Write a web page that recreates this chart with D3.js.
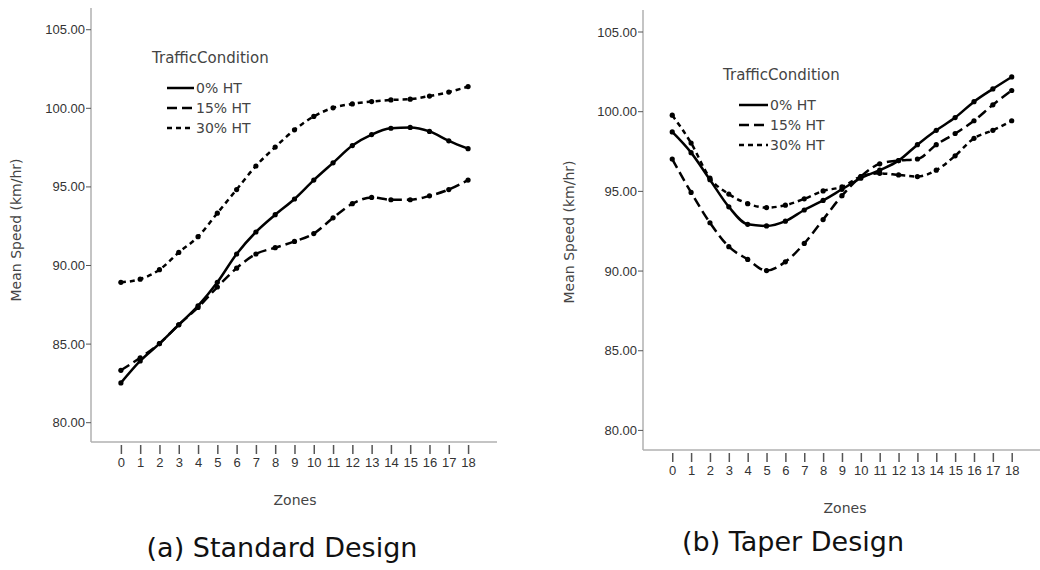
<!DOCTYPE html>
<html>
<head>
<meta charset="utf-8">
<script src="https://cdn.jsdelivr.net/npm/d3@7"></script>
<style>
  body { margin: 0; background: #fff; }
  text { font-family: "DejaVu Sans", Verdana, sans-serif; }
  .tick text { font-family: "Liberation Sans Narrow", "Liberation Sans", Arial, sans-serif; fill: #333; }
</style>
</head>
<body>
<script>
// 区域编号（横轴）
var zones = [0, 1, 2, 3, 4, 5, 6, 7, 8, 9, 10, 11, 12, 13, 14, 15, 16, 17, 18];
var yTicks = [80, 85, 90, 95, 100, 105];
var seriesNames = ["0% HT", "15% HT", "30% HT"];

// (a) Standard Design
var stdHT0  = [82.5, 83.9, 85.0, 86.2, 87.4, 88.9, 90.7, 92.1, 93.2, 94.2, 95.4, 96.5, 97.6, 98.3, 98.7, 98.75, 98.5, 97.9, 97.4];
var stdHT15 = [83.3, 84.1, 85.0, 86.2, 87.3, 88.6, 89.8, 90.7, 91.1, 91.5, 92.0, 93.0, 93.9, 94.3, 94.15, 94.15, 94.4, 94.8, 95.4];
var stdHT30 = [88.9, 89.1, 89.7, 90.8, 91.8, 93.3, 94.8, 96.3, 97.5, 98.6, 99.45, 100.0, 100.25, 100.4, 100.5, 100.55, 100.75, 101.0, 101.35];

// (b) Taper Design
var tapHT0  = [98.7, 97.4, 95.7, 94.0, 92.9, 92.8, 93.1, 93.8, 94.4, 95.1, 95.8, 96.3, 96.9, 97.9, 98.8, 99.6, 100.6, 101.4, 102.15];
var tapHT15 = [97.0, 94.9, 93.0, 91.5, 90.7, 90.0, 90.55, 91.7, 93.2, 94.7, 95.9, 96.7, 96.9, 97.0, 97.9, 98.6, 99.4, 100.4, 101.3];
var tapHT30 = [99.75, 98.0, 95.8, 94.8, 94.2, 93.95, 94.1, 94.5, 95.0, 95.25, 95.9, 96.1, 96.0, 95.9, 96.3, 97.2, 98.3, 98.8, 99.4];

var dashes = [null, "10,5", "5,4"];

var svg = d3.select("body").append("svg")
    .attr("width", 1040)
    .attr("height", 570);

// 画一个面板
function drawPanel(p) {
  var x = d3.scaleLinear().domain([-1.55, 19.5]).range([p.left, p.right]);
  var y = d3.scaleLinear().domain([78.74, 106.35]).range([p.bottom, p.top]);
  var g = svg.append("g");

  // Y 轴
  var ya = g.append("g")
      .attr("transform", "translate(" + p.left + ",0)")
      .call(d3.axisLeft(y).tickValues(yTicks).tickFormat(d3.format(".2f")).tickSize(5).tickPadding(1));
  ya.select(".domain").attr("stroke", "#b0b0b0").attr("stroke-width", 1.5).attr("d", "M0," + p.top + "V" + p.bottom);
  ya.selectAll(".tick line").attr("stroke", "#555");
  ya.selectAll(".tick text").style("font-size", "13px").attr("dy", "0.35em");

  // X 轴
  var xa = g.append("g")
      .attr("transform", "translate(0," + p.bottom + ")")
      .call(d3.axisBottom(x).tickValues(zones).tickSize(0).tickPadding(16));
  xa.select(".domain").attr("stroke", "#b0b0b0").attr("stroke-width", 1.5).attr("d", "M" + p.left + ",0H" + p.right);
  xa.selectAll(".tick line").attr("stroke", "#555").attr("stroke-width", 1.5).attr("y1", 3).attr("y2", 12);
  xa.selectAll(".tick text").style("font-size", "13px");

  // 轴标题
  g.append("text")
      .attr("transform", "translate(" + p.ylabX + "," + p.ylabY + ") rotate(-90)")
      .attr("text-anchor", "middle")
      .style("font-size", "14px").style("fill", "#444")
      .text("Mean Speed (km/hr)");
  g.append("text")
      .attr("x", p.xlabX).attr("y", p.bottom + 63)
      .attr("text-anchor", "middle")
      .style("font-size", "14px").style("fill", "#444")
      .text("Zones");

  // 折线
  var line = d3.line()
      .x(function(d, i) { return x(zones[i]); })
      .y(function(d) { return y(d); })
      .curve(d3.curveMonotoneX);

  p.series.forEach(function(s, k) {
    g.append("path")
        .datum(s)
        .attr("fill", "none")
        .attr("stroke", "#000")
        .attr("stroke-width", 2.5)
        .attr("stroke-dasharray", dashes[k])
        .attr("d", line);
    g.selectAll(".pt" + k)
        .data(s)
      .enter().append("circle")
        .attr("r", 2.6)
        .attr("cx", function(d, i) { return x(zones[i]); })
        .attr("cy", function(d) { return y(d); })
        .attr("fill", "#000");
  });

  // 图例
  var lg = g.append("g");
  lg.append("text")
      .attr("x", p.legX).attr("y", p.legY)
      .attr("dy", "0.35em")
      .style("font-size", "15px").style("fill", "#444")
      .text("TrafficCondition");
  seriesNames.forEach(function(n, k) {
    var yy = p.legY + 30 + k * 20;
    lg.append("line")
        .attr("x1", p.legX + p.legDx).attr("x2", p.legX + p.legDx + p.legLen)
        .attr("y1", yy).attr("y2", yy)
        .attr("stroke", "#000").attr("stroke-width", 2.5)
        .attr("stroke-dasharray", dashes[k]);
    lg.append("text")
        .attr("x", p.legX + p.legDx + p.legLen + 2).attr("y", yy)
        .attr("dy", "0.35em")
        .style("font-size", "14px").style("fill", "#444")
        .text(n);
  });

  // 副标题
  g.append("text")
      .attr("x", p.capX).attr("y", p.capY)
      .attr("text-anchor", "middle")
      .style("font-size", "27px").style("fill", "#111")
      .text(p.caption);
}

drawPanel({
  left: 91, right: 497, top: 8, bottom: 442,
  ylabX: 21, ylabY: 230, xlabX: 295,
  legX: 152, legY: 58, legDx: 15, legLen: 27,
  capX: 282, capY: 557, caption: "(a) Standard Design",
  series: [stdHT0, stdHT15, stdHT30]
});

drawPanel({
  left: 643, right: 1040, top: 10, bottom: 450,
  ylabX: 574, ylabY: 232, xlabX: 845,
  legX: 723, legY: 75, legDx: 16, legLen: 29,
  capX: 793, capY: 551, caption: "(b) Taper Design",
  series: [tapHT0, tapHT15, tapHT30]
});
</script>
</body>
</html>
